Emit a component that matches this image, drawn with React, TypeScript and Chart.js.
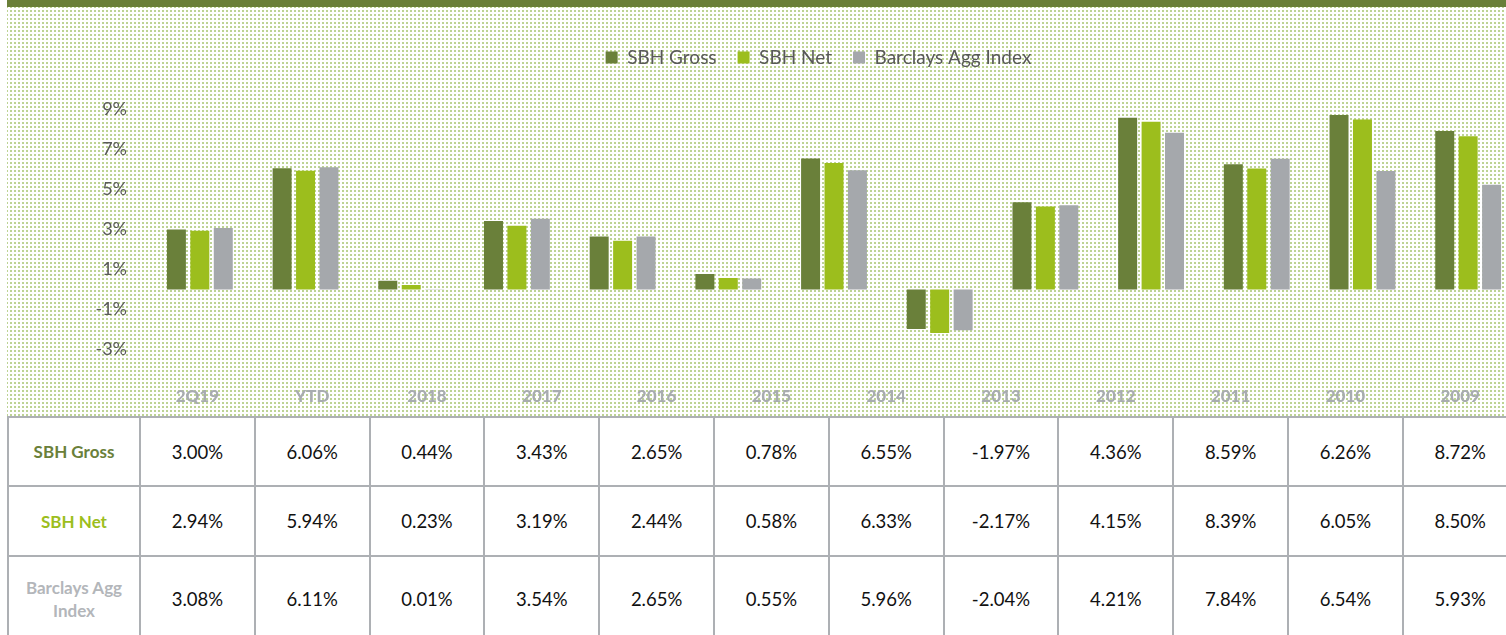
import React, { useEffect, useRef } from "react";
import { Chart, registerables } from "chart.js";

Chart.register(...registerables);

// ---------- data ----------
const categories = ["2Q19", "YTD", "2018", "2017", "2016", "2015", "2014", "2013", "2012", "2011", "2010", "2009", "2008"];
const sbhGross = [3.0, 6.06, 0.44, 3.43, 2.65, 0.78, 6.55, -1.97, 4.36, 8.59, 6.26, 8.72, 7.93];
const sbhNet = [2.94, 5.94, 0.23, 3.19, 2.44, 0.58, 6.33, -2.17, 4.15, 8.39, 6.05, 8.5, 7.66];
const barclaysAgg = [3.08, 6.11, 0.01, 3.54, 2.65, 0.55, 5.96, -2.04, 4.21, 7.84, 6.54, 5.93, 5.24];
const seriesNames = ["SBH Gross", "SBH Net", "Barclays Agg Index"];
const yTickValues = [-3, -1, 1, 3, 5, 7, 9];

// ---------- styles ----------
const COLORS = ["#6A803A", "#9CBE1D", "#A5A8AC"];
const LABEL_COLORS = ["#6A803A", "#9CBE1D", "#B3B6BA"];
const FONT = "Lato, 'Open Sans', sans-serif";
const COL0_LEFT = 7;
const COL1_LEFT = 139;
const COL_W = 114.8;
const LINE = "#ADB0B4";
const LEGEND_CENTER_X = 818.5;

const legendSpacer = {
  id: "legendSpacer",
  beforeInit(chart: any) {
    const legend = chart.legend;
    if (!legend) return;
    const orig = legend.fit;
    legend.fit = function () {
      orig.call(legend);
      legend.height += 32.5;
    };
  },
  afterLayout(chart: any) {
    const lg = chart.legend;
    if (!lg) return;
    const dx = LEGEND_CENTER_X - (lg.left + lg.right) / 2;
    lg.left += dx;
    lg.right += dx;
  },
};

export default function App() {
  const canvasRef = useRef<HTMLCanvasElement | null>(null);

  useEffect(() => {
    if (!canvasRef.current) return;
    Chart.defaults.font.family = FONT;
    const series = [sbhGross, sbhNet, barclaysAgg];
    const chart = new Chart(canvasRef.current, {
      type: "bar",
      data: {
        labels: categories,
        datasets: series.map((d, i) => ({
          label: seriesNames[i],
          data: d,
          backgroundColor: COLORS[i],
          borderWidth: 0,
        })),
      },
      options: {
        animation: false,
        responsive: false,
        layout: { padding: { left: 80, right: 0, top: 27, bottom: 50.5 } },
        datasets: { bar: { categoryPercentage: 0.665, barPercentage: 0.81 } },
        plugins: {
          legend: {
            position: "top",
            labels: {
              boxWidth: 12,
              boxHeight: 12,
              padding: 21,
              color: "#595959",
              font: { family: FONT, size: 19 },
            },
          },
          tooltip: { enabled: false },
        },
        scales: {
          x: { display: false },
          y: {
            min: -3,
            max: 9,
            grid: { display: false, drawTicks: false },
            border: { display: false },
            ticks: {
              stepSize: 2,
              padding: 20,
              color: "#595959",
              font: { family: FONT, size: 18 },
              callback: (v: any) => `${v}%`,
            },
            afterBuildTicks: (s: any) => {
              s.ticks = yTickValues.map((v) => ({ value: v }));
            },
            afterFit: (s: any) => {
              s.width = 67;
            },
          },
        },
      } as any,
      plugins: [legendSpacer],
    });
    return () => chart.destroy();
  }, []);

  const rows = [sbhGross, sbhNet, barclaysAgg];
  const rowTops = [418, 487, 557];
  const rowHeights = [67, 68, 84];
  const hLines = [416, 485, 555];

  return (
    <div
      style={{
        position: "absolute",
        left: 0,
        top: 0,
        width: 1506,
        height: 635,
        overflow: "hidden",
        background: "#ffffff",
        fontFamily: FONT,
      }}
    >
      {/* top band */}
      <div style={{ position: "absolute", left: 7, top: 0, width: 1520, height: 7, background: "#6A7F39" }} />
      {/* dotted background */}
      <div
        style={{
          position: "absolute",
          left: 7,
          top: 7,
          width: 1520,
          height: 409,
          backgroundColor: "#ffffff",
          backgroundImage:
            "linear-gradient(90deg, #ffffff 2px, transparent 2px), linear-gradient(#ffffff 2px, #BDD394 2px)",
          backgroundSize: "4px 4px",
          backgroundPosition: "1px 1px",
        }}
      />
      <canvas
        ref={canvasRef}
        width={1521}
        height={400}
        style={{ position: "absolute", left: 0, top: 0, display: "block" }}
      />
      {/* table header (years) */}
      {categories.map((c, i) => (
        <div
          key={"h" + c}
          style={{
            position: "absolute",
            left: COL1_LEFT + i * COL_W + 1,
            top: 384,
            width: COL_W,
            height: 24,
            lineHeight: "24px",
            textAlign: "center",
            fontWeight: 900,
            fontSize: 17,
            color: "#A8ACB0",
          }}
        >
          {c}
        </div>
      ))}
      {/* table white area */}
      <div style={{ position: "absolute", left: 7, top: 416, width: 1520, height: 219, background: "#ffffff" }} />
      {/* horizontal lines */}
      {hLines.map((y) => (
        <div key={"hl" + y} style={{ position: "absolute", left: COL0_LEFT, top: y, width: 1520, height: 2, background: LINE }} />
      ))}
      {/* vertical lines */}
      <div style={{ position: "absolute", left: COL0_LEFT, top: 416, width: 2, height: 219, background: LINE }} />
      {categories.map((c, i) => (
        <div
          key={"vl" + c}
          style={{ position: "absolute", left: COL1_LEFT + i * COL_W, top: 416, width: 2, height: 219, background: LINE }}
        />
      ))}
      {/* row headers */}
      {seriesNames.map((n, r) => (
        <div
          key={"rh" + n}
          style={{
            position: "absolute",
            left: COL0_LEFT + 2,
            top: rowTops[r],
            width: COL1_LEFT - COL0_LEFT - 2,
            height: rowHeights[r],
            display: "flex",
            alignItems: "center",
            justifyContent: "center",
            textAlign: "center",
            fontWeight: 700,
            fontSize: 17,
            lineHeight: "23px",
            color: LABEL_COLORS[r],
            padding: "0 12px",
            boxSizing: "border-box",
          }}
        >
          {n}
        </div>
      ))}
      {/* values */}
      {rows.map((vals, r) =>
        vals.map((v, i) => (
          <div
            key={`v${r}-${i}`}
            style={{
              position: "absolute",
              left: COL1_LEFT + i * COL_W + 2,
              top: rowTops[r],
              width: COL_W - 2,
              height: rowHeights[r],
              display: "flex",
              alignItems: "center",
              justifyContent: "center",
              fontSize: 18.5,
              color: "#111111",
            }}
          >
            {v.toFixed(2)}%
          </div>
        ))
      )}
    </div>
  );
}
